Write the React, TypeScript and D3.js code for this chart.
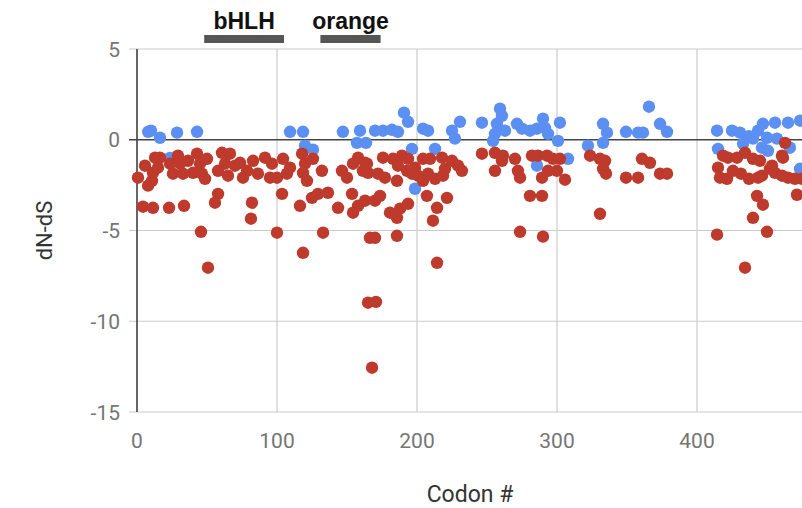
import React from "react";
import * as d3 from "d3";

const W = 802;
const H = 508;

const xTicks = [0, 100, 200, 300, 400, 500];
const xTickLabels = ["0", "100", "200", "300", "400", ""];
const yTicks = [5, 0, -5, -10, -15];
const xTitle = "Codon #";
const yTitle = "dN-dS";

const domainNames = ["bHLH", "orange"];
const domainStart = [48, 131];
const domainEnd = [105, 174];

// [codon, dN-dS]
const positivePoints: [number, number][] = [
  [8, 0.44], [10, 0.5], [16.4, 0.11], [28.6, 0.39], [42.9, 0.44], [23.6, -1.0],
  [109.3, 0.44], [118.6, 0.44], [120, -0.33], [125.7, -0.55], [147.1, 0.44],
  [159.3, 0.5], [157.1, -0.17], [163.6, -0.17], [170, 0.5], [175.7, 0.5],
  [182.1, 0.55], [186.4, 0.44], [190.7, 1.49], [193.6, 0.99], [204.3, 0.61],
  [207.9, 0.5], [196.4, -0.5], [212.9, -0.5], [198.6, -2.7], [225, 0.5],
  [227.1, 0.06], [230.7, 0.99], [246.4, 0.94], [259.3, 1.71], [260.7, 1.32],
  [257.1, 0.88], [255.7, 0.33], [254.3, -0.06], [262.9, 0.5], [271.4, 0.88],
  [275, 0.61], [280.7, 0.5], [285.7, 0.61], [290, 1.16], [291.4, 0.66],
  [293.6, 0.33], [302.1, 0.94], [300.7, -0.06], [285.7, -1.43], [307.9, -1.05],
  [322.1, -0.33], [332.9, 0.88], [335.7, 0.39], [332.9, -0.17], [349.3, 0.44],
  [357.9, 0.39], [361.4, 0.39], [365.7, 1.82], [373.6, 0.88], [378.6, 0.44],
  [414.3, 0.5], [415, -0.5], [425, 0.5], [430.7, 0.39], [432.9, -0.22],
  [440, 0.06], [443.6, 0.5], [447.1, 0.88], [455.7, 0.94], [465, 0.94],
  [473.6, 1.05], [450, 0.11], [450.7, -0.61], [457.1, 0.06], [466.4, -0.44],
  [473.6, -1.6], [446.4, -0.44], [437, 0.2],
];

const negativePoints: [number, number][] = [
  [0.7, -2.09], [4.3, -3.69], [11.4, -3.75], [22.9, -3.75], [33.6, -3.64],
  [5.7, -1.43], [7.9, -2.53], [10.7, -2.26], [12.9, -0.99], [15, -1.54],
  [16.4, -0.99], [11.4, -1.82], [23.6, -1.32], [25.7, -1.87], [29.3, -0.88],
  [30.7, -1.32], [32.9, -1.87], [36.4, -1.16], [40, -1.82], [42.9, -0.77],
  [45, -1.32], [46.4, -1.87], [48.6, -2.15], [50, -1.05], [45.7, -5.07],
  [50.7, -7.05], [57.9, -1.71], [60.7, -0.72], [62.9, -1.32], [65, -1.98],
  [66.4, -0.77], [70, -1.43], [73.6, -1.27], [78.6, -1.71], [75.7, -2.09],
  [55.7, -3.47], [57.9, -2.98], [82.1, -3.47], [81.4, -4.35],
  [82.9, -1.16], [86.4, -1.87], [91.4, -0.99], [96.4, -1.32], [95, -2.09],
  [100, -2.09], [104.3, -1.05], [107.1, -1.87], [109.3, -1.54], [117.9, -0.77],
  [120, -1.32], [118.6, -1.82], [125.7, -1.05], [132.1, -1.71], [121.4, -2.26],
  [146.4, -1.71], [150, -2.09], [154.3, -1.32], [157.9, -0.99], [161.4, -1.71],
  [164.3, -1.32], [103.6, -2.98], [100, -5.12], [116.4, -3.64], [118.6, -6.23],
  [125, -3.2], [129.3, -2.98], [136.4, -2.92], [132.9, -5.12], [143.6, -3.75],
  [153.6, -2.98], [157.9, -3.64], [154.3, -4.02], [162.9, -3.36], [165, -8.98],
  [170.7, -8.93], [167.9, -12.56], [166.4, -5.4], [170, -5.4], [170, -3.36],
  [173.6, -3.09], [180.7, -4.02], [185.7, -4.3], [187.9, -3.8], [193.6, -3.53],
  [207.1, -3.09], [214.3, -3.75], [221.4, -3.2], [211.4, -4.46], [185.7, -5.29],
  [214.3, -6.78],
  [162.9, -1.27], [165, -1.82], [172.1, -1.87], [177.1, -2.09], [185.7, -2.26],
  [175.7, -0.99], [182.9, -1.05], [189.3, -0.88], [193.6, -1.05], [186.4, -1.43],
  [192.9, -1.71], [198.6, -1.54], [204.3, -1.05], [209.3, -1.05], [200.7, -1.98],
  [207.9, -1.87], [212.9, -2.15], [217.9, -0.99], [220, -1.6], [225, -1.16],
  [229.3, -1.43], [196.4, -1.87], [204.3, -2.26], [218.6, -1.98], [232.1, -1.71],
  [246.4, -0.77], [255.7, -0.72], [261.4, -0.88], [260.7, -1.16], [255.7, -1.71],
  [270, -1.05], [272.1, -1.71], [273.6, -2.09], [282.1, -0.88], [286.4, -0.88],
  [292.9, -0.88], [297.1, -1.05], [302.1, -1.05], [289.3, -2.09], [293.6, -1.71],
  [300, -1.71], [305.7, -2.2], [280.7, -3.09], [289.3, -3.09], [273.6, -5.07],
  [290, -5.34],
  [323.6, -0.88], [330.7, -1.05], [334.3, -1.16], [332.9, -1.6], [335, -1.87],
  [330.7, -4.08], [349.3, -2.09], [357.9, -2.09], [360.7, -1.05], [366.4, -1.27],
  [373.6, -1.87], [378.6, -1.87],
  [414.3, -5.23], [434.3, -7.05], [450, -5.07], [440, -4.3], [447.1, -3.58],
  [442.9, -3.09], [471.4, -3.03], [462.9, -0.17], [461.4, -0.99], [418.6, -0.88],
  [422.1, -0.99], [428.6, -0.99], [434.3, -0.72], [440, -1.05], [445, -1.16],
  [460.7, -0.88], [415, -1.54], [416.4, -2.09], [421.4, -2.15], [425.7, -1.71],
  [431.4, -1.87], [437.1, -2.15], [443.6, -2.09], [446.4, -1.98], [452.1, -1.6],
  [455.7, -1.82], [460.7, -1.98], [465, -2.09], [470, -2.15], [475, -2.15],
  [453.6, -1.43],
];

export default function App() {
  const x = d3.scaleLinear().domain([0, 500]).range([137, 837]);
  const y = d3.scaleLinear().domain([-15, 5]).range([412, 49]);
  const left = 129;
  const right = 837;
  const font = "Roboto, 'Noto Sans', sans-serif";
  const r = 6.2;
  const blue = "#5b8ff2";
  const red = "#be3a2c";

  return (
    <svg
      width={W}
      height={H}
      style={{ position: "absolute", left: 0, top: 0, background: "#fff" }}
    >
      <rect x={0} y={0} width={W} height={H} fill="#fff" />
      {yTicks.filter((t) => t !== 0).map((t) => (
        <line key={"h" + t} x1={left} x2={right} y1={y(t)} y2={y(t)} stroke="#cccccc" strokeWidth={1.2} />
      ))}
      {xTicks.filter((t) => t !== 0).map((t) => (
        <line key={"v" + t} x1={x(t)} x2={x(t)} y1={y(5)} y2={y(-15)} stroke="#cccccc" strokeWidth={1.2} />
      ))}
      <line x1={x(0)} x2={x(0)} y1={y(5)} y2={y(-15)} stroke="#333" strokeWidth={1.5} />
      <line x1={left} x2={right} y1={y(0)} y2={y(0)} stroke="#444" strokeWidth={1.6} />

      {yTicks.map((t) => (
        <text key={"yl" + t} x={120} y={y(t)} dy="0.36em" textAnchor="end" fontFamily={font} fontSize={21} fill="#757575">
          {t}
        </text>
      ))}
      {xTicks.map((t, i) =>
        xTickLabels[i] ? (
          <text key={"xl" + t} x={x(t)} y={448} textAnchor="middle" fontFamily={font} fontSize={21} fill="#757575">
            {xTickLabels[i]}
          </text>
        ) : null
      )}

      <text x={470} y={502} textAnchor="middle" fontFamily={font} fontSize={23} fill="#333">
        {xTitle}
      </text>
      <text transform={`translate(52,${y(-5)}) rotate(-90)`} textAnchor="middle" fontFamily={font} fontSize={22} fill="#333">
        {yTitle}
      </text>

      {positivePoints.map((p, i) => (
        <circle key={"b" + i} cx={x(p[0])} cy={y(p[1])} r={r} fill={blue} />
      ))}
      {negativePoints.map((p, i) => (
        <circle key={"r" + i} cx={x(p[0])} cy={y(p[1])} r={r} fill={red} />
      ))}

      {domainNames.map((name, i) => (
        <g key={name}>
          <rect x={x(domainStart[i])} y={35} width={x(domainEnd[i]) - x(domainStart[i])} height={8} fill="#555" />
          <text
            x={(x(domainStart[i]) + x(domainEnd[i])) / 2}
            y={29}
            textAnchor="middle"
            fontFamily="'Liberation Sans', Arial, sans-serif"
            fontWeight="bold"
            fontSize={23}
            fill="#111"
          >
            {name}
          </text>
        </g>
      ))}
    </svg>
  );
}
